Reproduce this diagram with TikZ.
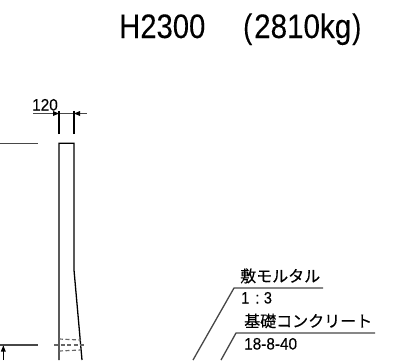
\documentclass[tikz,border=0pt]{standalone}
\usepackage{fontspec}
\setmainfont{Liberation Sans}
\newfontfamily\lat[FakeBold=0.2]{Liberation Sans}
\newfontfamily\ttl[FakeBold=0.1]{Liberation Sans}
\newfontfamily\cjk[FakeBold=0.3]{Noto Sans CJK JP}
\tikzset{
  x=1pt,y=-1pt,
  ln/.style={draw=black,line width=1.3pt},
  dim/.style={draw=black!72,line width=1.3pt},
  hid/.style={draw=black!60,line width=1.2pt,dash pattern=on 4pt off 2.5pt},
  head/.style={fill=black,draw=none},
  lbl/.style={inner sep=0pt,anchor=base west,text=black},
}
\newcommand{\narrow}[2]{\scalebox{#1}[1]{#2}}
\begin{document}
\begin{tikzpicture}
\useasboundingbox (0,0) rectangle (401,360);
% title
\node[lbl,font=\ttl\fontsize{34}{34}\selectfont] (titleA) at (119,38) {\narrow{0.86}{H2300}};
\node[lbl,font=\ttl\fontsize{34}{34}\selectfont] (titleB) at (243,38) {\narrow{0.8}{(}};
\node[lbl,font=\ttl\fontsize{34}{34}\selectfont] (titleC) at (254,38) {\narrow{0.87}{2810kg}};
\node[lbl,font=\ttl\fontsize{34}{34}\selectfont] (titleD) at (352,38) {\narrow{0.8}{)}};
% dimension 120
\node[lbl,font=\lat\fontsize{16.5}{16.5}\selectfont] (dimA) at (32,110.5) {\narrow{0.93}{120}};
\coordinate (tl) at (59,134); \coordinate (tr) at (74,134);
\coordinate (tlt) at (59,110.5); \coordinate (trt) at (74,110.5);
\coordinate (dl) at (59,113.5); \coordinate (dr) at (74,113.5);
\coordinate (dlo) at (33,113.5); \coordinate (dro) at (87,113.5);
\draw[dim] (dlo) -- (dro);
\draw[ln] (tl) -- (tlt);
\draw[ln] (tr) -- (trt);
\fill[head] (dl) -- ++(-6,-2.5) -- ++(0,5) -- cycle;
\fill[head] (dr) -- ++(6,-2.5) -- ++(0,5) -- cycle;
% level lines
\draw[dim] (0,143.3) -- (38,143.3);
\draw[dim] (0,345) -- (38,345);
\coordinate (au) at (3.3,345.5); \coordinate (ad) at (3.3,360);
\draw[ln] (ad) -- (au);
\fill[head] (au) -- ++(-2.5,6) -- ++(5,0) -- cycle;
% post
\draw[ln] (59,360) -- (59,143.3) -- (74,143.3) -- (74,270) -- (82,360);
% hidden lines
\draw[hid] (59,339) -- (81,340);
\draw[hid] (54,345) -- (86,345);
\draw[hid] (59,351) -- (81,350);
% callout 1
\node[lbl,font=\cjk\fontsize{16}{16}\selectfont] (mortar) at (240,282) {敷モルタル};
\node[lbl,font=\lat\fontsize{16.5}{16.5}\selectfont] (ratio) at (241,303.5) {\narrow{0.88}{1\hspace{7pt}:\hspace{5pt}3}};
\coordinate (m0) at (193,360); \coordinate (m1) at (234,288); \coordinate (m2) at (323,288);
\draw[dim] (m0) -- (m1) -- (m2);
% callout 2
\node[lbl,font=\cjk\fontsize{16}{16}\selectfont] (conc) at (244,327) {基礎コンクリート};
\node[lbl,font=\lat\fontsize{16.5}{16.5}\selectfont] (mix) at (244,349.5) {\narrow{0.93}{18-8-40}};
\coordinate (c0) at (221,360); \coordinate (c1) at (236,333); \coordinate (c2) at (375,333);
\draw[dim] (c0) -- (c1) -- (c2);
\end{tikzpicture}
\end{document}
